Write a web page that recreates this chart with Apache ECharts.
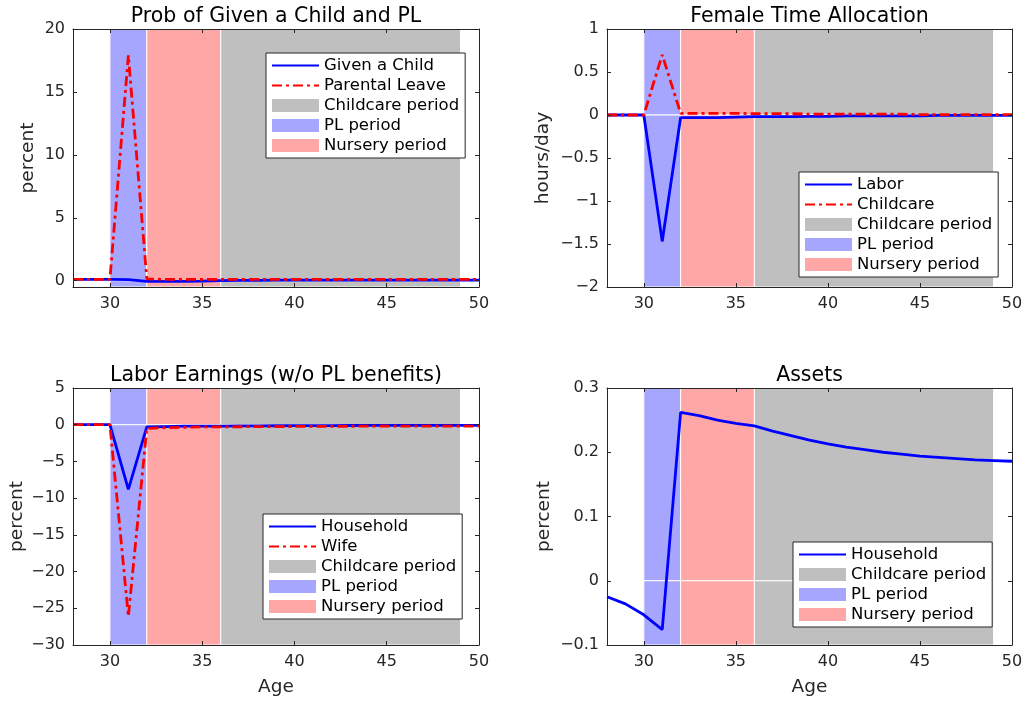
<!DOCTYPE html>
<html>
<head>
<meta charset="utf-8">
<script src="https://cdn.jsdelivr.net/npm/echarts@6/dist/echarts.min.js"></script>
<style>
html,body{margin:0;padding:0;background:#fff;}
#chart{width:1030px;height:703px;}
</style>
</head>
<body>
<div id="chart"></div>
<script>
// ---- Data ----
const ages = [28,29,30,31,32,33,34,35,36,37,38,39,40,41,42,43,44,45,46,47,48,49,50];
const xTicks = [30,35,40,45,50];

// Panel 1: Prob of Given a Child and PL (percent)
const givenChild    = [0.1,0.1,0.1,0.08,-0.05,-0.06,-0.05,-0.03,0.0,0.02,0.03,0.04,0.05,0.05,0.05,0.05,0.05,0.05,0.05,0.05,0.05,0.05,0.05];
const parentalLeave = [0.1,0.1,0.1,17.9,0.15,0.1,0.1,0.1,0.1,0.1,0.1,0.1,0.1,0.1,0.1,0.1,0.1,0.1,0.1,0.1,0.1,0.1,0.1];
const yTicks1 = [0,5,10,15,20];

// Panel 2: Female Time Allocation (hours/day)
const labor     = [0,0,0,-1.47,-0.03,-0.03,-0.03,-0.025,-0.02,-0.02,-0.02,-0.015,-0.015,-0.01,-0.01,-0.01,-0.01,-0.01,-0.005,-0.005,-0.005,-0.005,-0.005];
const childcare = [0,0,0,0.7,0.02,0.02,0.02,0.02,0.015,0.015,0.015,0.01,0.01,0.01,0.01,0.01,0.01,0.005,0.005,0.005,0.005,0.005,0.005];
const yTicks2 = [-2,-1.5,-1,-0.5,0,0.5,1];

// Panel 3: Labor Earnings (w/o PL benefits) (percent)
const household = [0,0,0,-8.8,-0.3,-0.25,-0.2,-0.2,-0.18,-0.16,-0.15,-0.14,-0.13,-0.12,-0.12,-0.11,-0.1,-0.1,-0.1,-0.1,-0.1,-0.1,-0.1];
const wife      = [0,0,0,-26.1,-0.5,-0.4,-0.35,-0.3,-0.3,-0.28,-0.26,-0.25,-0.24,-0.23,-0.22,-0.21,-0.2,-0.2,-0.2,-0.2,-0.2,-0.2,-0.2];
const yTicks3 = [-30,-25,-20,-15,-10,-5,0,5];

// Panel 4: Assets (percent)
const assets = [-0.025,-0.036,-0.053,-0.076,0.262,0.257,0.25,0.245,0.241,0.233,0.226,0.219,0.213,0.208,0.204,0.2,0.197,0.194,0.192,0.19,0.188,0.187,0.186];
const yTicks4 = [-0.1,0,0.1,0.2,0.3];

// Periods (age ranges)
const plPeriod        = [30,32];
const nurseryPeriod   = [32,36];
const childcarePeriod = [36,49];

// ---- Styling ----
const FONT = '"DejaVu Sans", sans-serif';
const AX = '#262626';
const BLUE = '#0000ff', RED = '#ff0000';
const C_CHILD = '#bfbfbf', C_PL = '#a6a6ff', C_NUR = '#ffa6a6';
const DASHDOT = [10,4,3,4];

const fmt = v => String(Math.round(v*1000)/1000).replace('-', '\u2212');

const panels = [
  {title:'Prob of Given a Child and PL', grid:{left:73, top:29, width:406, height:258},
   ymin:-0.5, ymax:20, yticks:yTicks1, yname:'percent', ygap:35, xname:'',
   lines:[{name:'Given a Child', data:givenChild, color:BLUE, dash:false},
          {name:'Parental Leave', data:parentalLeave, color:RED, dash:true}],
   legend:{left:266, top:53}},
  {title:'Female Time Allocation', grid:{left:607, top:29, width:405, height:258},
   ymin:-2, ymax:1, yticks:yTicks2, yname:'hours/day', ygap:54, xname:'',
   lines:[{name:'Labor', data:labor, color:BLUE, dash:false},
          {name:'Childcare', data:childcare, color:RED, dash:true}],
   legend:{left:799, top:172}},
  {title:'Labor Earnings (w/o PL benefits)', grid:{left:73, top:388, width:406, height:257},
   ymin:-30, ymax:5, yticks:yTicks3, yname:'percent', ygap:46, xname:'Age',
   lines:[{name:'Household', data:household, color:BLUE, dash:false},
          {name:'Wife', data:wife, color:RED, dash:true}],
   legend:{left:263, top:514}},
  {title:'Assets', grid:{left:607, top:388, width:405, height:257},
   ymin:-0.1, ymax:0.3, yticks:yTicks4, yname:'percent', ygap:53, xname:'Age',
   lines:[{name:'Household', data:assets, color:BLUE, dash:false}],
   legend:{left:793, top:542}}
];

const option = {
  animation:false,
  backgroundColor:'#fff',
  textStyle:{fontFamily:FONT},
  title:[], grid:[], xAxis:[], yAxis:[], legend:[], series:[]
};

panels.forEach((p, i) => {
  const g = p.grid;
  option.grid.push({left:g.left, top:g.top, width:g.width, height:g.height, containLabel:false});
  option.title.push({text:p.title, left:g.left + g.width/2, textAlign:'center', top:g.top - 23, padding:0,
    textStyle:{fontFamily:FONT, fontSize:20.5, fontWeight:'normal', color:'#000'}});
  const xi = option.xAxis.length, yi = option.yAxis.length;
  const axLine = {show:true, onZero:false, lineStyle:{color:AX, width:1}};
  const tick = {show:true, inside:true, length:4, lineStyle:{color:AX}, customValues:xTicks};
  option.xAxis.push({type:'value', gridIndex:i, min:28, max:50, position:'bottom', z:10,
    axisLine:axLine, axisTick:tick, splitLine:{show:false},
    axisLabel:{show:true, customValues:xTicks, margin:9, fontSize:16, color:AX, fontFamily:FONT, formatter:fmt},
    name:p.xname, nameLocation:'middle', nameGap:33, nameTextStyle:{fontSize:18.5, color:AX, fontFamily:FONT}});
  option.xAxis.push({type:'value', gridIndex:i, min:28, max:50, position:'top', z:10,
    axisLine:axLine, axisTick:tick, splitLine:{show:false}, axisLabel:{show:false}});
  const ytick = {show:true, inside:true, length:4, lineStyle:{color:AX}, customValues:p.yticks};
  option.yAxis.push({type:'value', gridIndex:i, min:p.ymin, max:p.ymax, position:'left', z:10,
    axisLine:axLine, axisTick:ytick, splitLine:{show:false},
    axisLabel:{show:true, customValues:p.yticks, margin:8, fontSize:16, color:AX, fontFamily:FONT, formatter:fmt},
    name:p.yname, nameLocation:'middle', nameGap:p.ygap, nameRotate:90,
    nameTextStyle:{fontSize:18.5, color:AX, fontFamily:FONT}});
  option.yAxis.push({type:'value', gridIndex:i, min:p.ymin, max:p.ymax, position:'right', z:10,
    axisLine:axLine, axisTick:ytick, splitLine:{show:false}, axisLabel:{show:false}});

  const legendData = [];
  p.lines.forEach(l => {
    option.series.push({
      type:'line', name:l.name, xAxisIndex:xi, yAxisIndex:yi, z:3,
      data: ages.map((a, k) => [a, l.data[k]]),
      symbol:'none', smooth:false,
      color:l.color,
      lineStyle:{color:l.color, width:2.8, type: l.dash ? DASHDOT : 'solid', cap:'butt'}
    });
    legendData.push({name:l.name, itemStyle:{opacity:0}});
  });
  // shaded periods
  [['Childcare period', childcarePeriod, C_CHILD], ['PL period', plPeriod, C_PL], ['Nursery period', nurseryPeriod, C_NUR]]
  .forEach(([name, rng, col]) => {
    option.series.push({
      type:'line', name:name, xAxisIndex:xi, yAxisIndex:yi, z:1, data:[], symbol:'none',
      color:col, itemStyle:{color:col}, lineStyle:{color:col},
      markArea:{silent:true, label:{show:false},
        itemStyle:{color:col, opacity:1, borderColor:'#ffffff', borderWidth:1},
        data:[
          [{coord:[rng[0], 0]}, {coord:[rng[1], p.ymax]}],
          [{coord:[rng[0], p.ymin]}, {coord:[rng[1], 0]}]
        ]}
    });
    legendData.push({name:name, icon:'rect'});
  });
  option.legend.push({
    orient:'vertical', left:p.legend.left, top:p.legend.top,
    data:legendData, selectedMode:false,
    itemWidth:47, itemHeight:13, itemGap:3,
    padding:[4,6,4,5],
    backgroundColor:'#fff', borderColor:AX, borderWidth:1, borderRadius:0,
    textStyle:{fontFamily:FONT, fontSize:16.5, lineHeight:16, color:'#000'},
    itemStyle:{borderWidth:0}
  });
});

const chart = echarts.init(document.getElementById('chart'), null, {renderer:'canvas'});
chart.setOption(option);
</script>
</body>
</html>
